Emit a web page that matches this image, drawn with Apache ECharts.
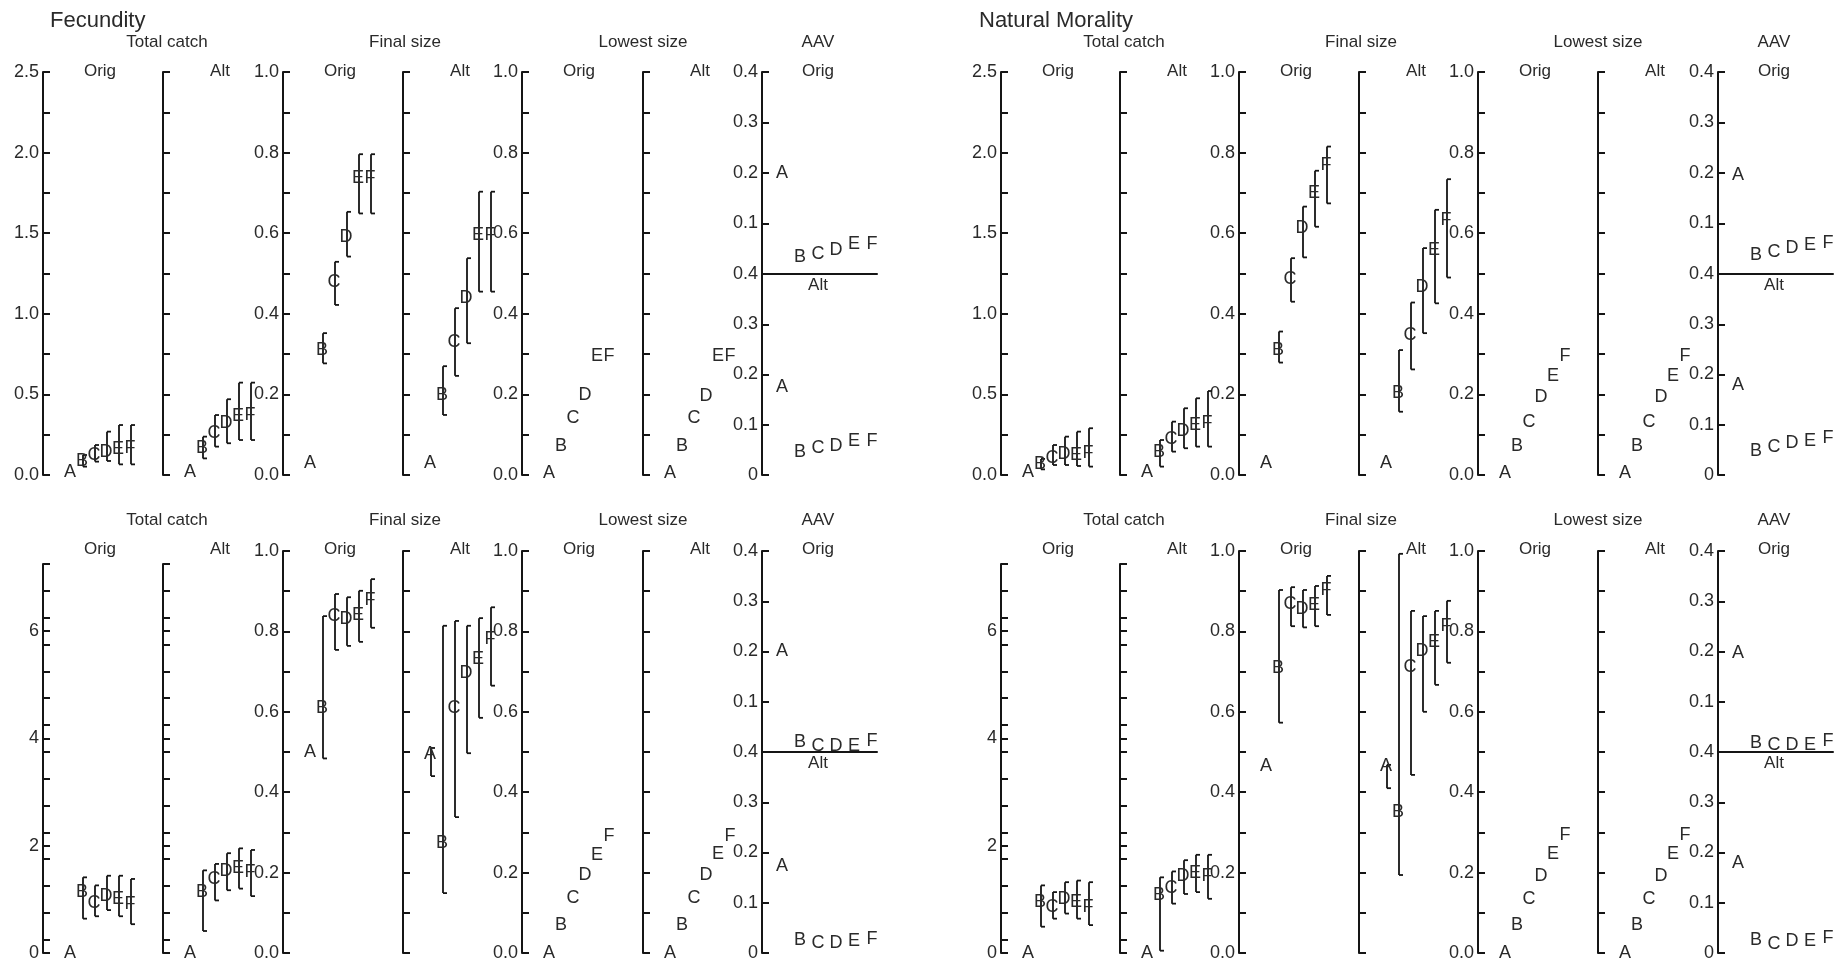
<!DOCTYPE html>
<html><head><meta charset="utf-8">
<script src="https://cdn.jsdelivr.net/npm/echarts@6/dist/echarts.min.js"></script>
<style>html,body{margin:0;padding:0;background:#fff}#c{width:1845px;height:968px}</style>
</head><body><div id="c"></div>
<script>
// ---------------- DATA ----------------
const letters = ['A', 'B', 'C', 'D', 'E', 'F'];

// Fecundity, upper row
const f1TcOrig = [0.02, 0.087, 0.124, 0.145, 0.159, 0.165];
const f1TcOrigLo = [null, 0.052, 0.083, 0.087, 0.066, 0.066];
const f1TcOrigHi = [null, 0.124, 0.186, 0.269, 0.31, 0.31];
const f1TcAlt = [0.02, 0.165, 0.259, 0.32, 0.366, 0.372];
const f1TcAltLo = [null, 0.103, 0.176, 0.197, 0.217, 0.217];
const f1TcAltHi = [null, 0.238, 0.372, 0.47, 0.573, 0.573];
const f1FsOrig = [0.029, 0.31, 0.48, 0.591, 0.736, 0.736];
const f1FsOrigLo = [null, 0.277, 0.422, 0.542, 0.649, 0.649];
const f1FsOrigHi = [null, 0.352, 0.529, 0.653, 0.796, 0.796];
const f1FsAlt = [0.029, 0.199, 0.331, 0.44, 0.596, 0.596];
const f1FsAltLo = [null, 0.149, 0.246, 0.327, 0.455, 0.455];
const f1FsAltHi = [null, 0.27, 0.414, 0.538, 0.703, 0.703];
const f1LsOrig = [0.004, 0.072, 0.141, 0.199, 0.294, 0.294];
const f1LsAlt = [0.004, 0.072, 0.141, 0.197, 0.294, 0.294];
const f1AavOrig = [0.2, 0.034, 0.04, 0.048, 0.059, 0.059];
const f1AavAlt = [0.176, 0.046, 0.053, 0.058, 0.068, 0.068];

// Fecundity, lower row
const f2TcOrig = [0, 1.135, 0.93, 1.055, 1.01, 0.907];
const f2TcOrigLo = [null, 0.64, 0.685, 0.80, 0.685, 0.537];
const f2TcOrigHi = [null, 1.41, 1.26, 1.44, 1.44, 1.38];
const f2TcAlt = [0, 1.135, 1.38, 1.52, 1.59, 1.51];
const f2TcAltLo = [null, 0.41, 0.98, 1.17, 1.20, 1.06];
const f2TcAltHi = [null, 1.54, 1.66, 1.86, 1.95, 1.92];
const f2FsOrig = [0.5, 0.61, 0.838, 0.83, 0.841, 0.878];
const f2FsOrigLo = [null, 0.484, 0.754, 0.764, 0.774, 0.809];
const f2FsOrigHi = [null, 0.838, 0.893, 0.885, 0.901, 0.93];
const f2FsAlt = [0.495, 0.274, 0.61, 0.696, 0.731, 0.78];
const f2FsAltLo = [0.44, 0.149, 0.338, 0.497, 0.585, 0.665];
const f2FsAltHi = [0.51, 0.814, 0.826, 0.814, 0.833, 0.86];
const f2LsOrig = [0, 0.07, 0.136, 0.194, 0.244, 0.291];
const f2LsAlt = [0, 0.07, 0.136, 0.194, 0.246, 0.291];
const f2AavOrig = [0.2, 0.019, 0.012, 0.012, 0.012, 0.021];
const f2AavAlt = [0.174, 0.026, 0.019, 0.02, 0.023, 0.027];

// Natural Morality, upper row
const m1TcOrig = [0.02, 0.066, 0.103, 0.128, 0.124, 0.135];
const m1TcOrigLo = [null, 0.035, 0.062, 0.062, 0.056, 0.052];
const m1TcOrigHi = [null, 0.1, 0.186, 0.238, 0.269, 0.29];
const m1TcAlt = [0.02, 0.145, 0.221, 0.275, 0.31, 0.324];
const m1TcAltLo = [null, 0.052, 0.145, 0.166, 0.176, 0.176];
const m1TcAltHi = [null, 0.217, 0.331, 0.414, 0.476, 0.521];
const m1FsOrig = [0.029, 0.31, 0.486, 0.612, 0.699, 0.768];
const m1FsOrigLo = [null, 0.279, 0.43, 0.54, 0.616, 0.674];
const m1FsOrigHi = [null, 0.356, 0.538, 0.666, 0.755, 0.815];
const m1FsAlt = [0.029, 0.203, 0.347, 0.467, 0.558, 0.633];
const m1FsAltLo = [null, 0.157, 0.262, 0.352, 0.426, 0.49];
const m1FsAltHi = [null, 0.31, 0.428, 0.563, 0.658, 0.734];
const m1LsOrig = [0.004, 0.072, 0.132, 0.194, 0.246, 0.294];
const m1LsAlt = [0.004, 0.072, 0.132, 0.194, 0.246, 0.294];
const m1AavOrig = [0.196, 0.038, 0.044, 0.051, 0.057, 0.062];
const m1AavAlt = [0.179, 0.048, 0.056, 0.063, 0.068, 0.073];

// Natural Morality, lower row
const m2TcOrig = [0, 0.95, 0.857, 1.01, 0.95, 0.857];
const m2TcOrigLo = [null, 0.49, 0.64, 0.735, 0.64, 0.52];
const m2TcOrigHi = [null, 1.26, 1.135, 1.32, 1.35, 1.32];
const m2TcAlt = [0, 1.074, 1.216, 1.44, 1.49, 1.44];
const m2TcAltLo = [null, 0.043, 0.92, 1.1, 1.135, 1.01];
const m2TcAltHi = [null, 1.41, 1.52, 1.73, 1.83, 1.83];
const m2FsOrig = [0.466, 0.708, 0.868, 0.855, 0.866, 0.903];
const m2FsOrigLo = [null, 0.573, 0.813, 0.81, 0.813, 0.841];
const m2FsOrigHi = [null, 0.903, 0.91, 0.903, 0.913, 0.938];
const m2FsAlt = [0.466, 0.351, 0.712, 0.75, 0.774, 0.813];
const m2FsAltLo = [0.41, 0.194, 0.443, 0.6, 0.667, 0.722];
const m2FsAltHi = [0.468, 0.993, 0.851, 0.838, 0.851, 0.876];
const m2LsOrig = [0, 0.07, 0.134, 0.192, 0.246, 0.294];
const m2LsAlt = [0, 0.07, 0.134, 0.192, 0.246, 0.294];
const m2AavOrig = [0.196, 0.018, 0.013, 0.013, 0.013, 0.022];
const m2AavAlt = [0.179, 0.026, 0.018, 0.023, 0.023, 0.029];

// tick / label values
const tcTicksUpper = [0, 0.25, 0.5, 0.75, 1, 1.25, 1.5, 1.75, 2, 2.25, 2.5];
const tcLabelsUpper = [0, 0.5, 1, 1.5, 2, 2.5];
const tcTicksLower = [0, 0.25, 0.75, 1.25, 1.75, 2, 2.25, 2.75, 3.25, 3.75, 4, 4.25, 4.75, 5.25, 5.75, 6, 6.25, 6.75, 7.25];
const tcLabelsLower = [0, 2, 4, 6];
const unitTicks = [0, 0.1, 0.2, 0.3, 0.4, 0.5, 0.6, 0.7, 0.8, 0.9, 1];
const unitLabels = [0, 0.2, 0.4, 0.6, 0.8, 1];
const aavTicks = [0, 0.1, 0.2, 0.3, 0.4];
const aavLabelsOrig = [0.1, 0.2, 0.3, 0.4];
const aavLabelsAlt = [0, 0.1, 0.2, 0.3, 0.4];

const panelTitles = ['Fecundity', 'Natural Morality'];
const columnTitles = ['Total catch', 'Final size', 'Lowest size', 'AAV'];

// ---------------- LAYOUT / STYLE ----------------
const LINE = '#151515';
const TEXT = '#2a2a2a';
const FONT = "'Liberation Sans', Arial, Helvetica, sans-serif";

const grids = [], xAxes = [], yAxes = [], series = [], graphics = [];

function addPanel(o) {
  const i = grids.length;
  grids.push({ left: o.left, top: o.top, width: o.width, height: o.height, containLabel: false });
  xAxes.push({
    gridIndex: i, type: 'value', min: o.xmin, max: o.xmax, show: !!o.xLine,
    axisLine: { show: !!o.xLine, onZero: false, lineStyle: { color: LINE, width: 2 } },
    axisTick: { show: false }, axisLabel: { show: false }, splitLine: { show: false }
  });
  yAxes.push({
    gridIndex: i, type: 'value', min: o.ymin, max: o.ymax, position: 'left',
    axisLine: { show: true, onZero: false, lineStyle: { color: LINE, width: 2 } },
    axisTick: { show: true, inside: true, length: 7, lineStyle: { color: LINE, width: 2 }, customValues: o.ticks },
    axisLabel: { show: !!o.labels, customValues: o.labels || [], formatter: o.fmt, color: TEXT, fontSize: 18, fontFamily: FONT, margin: 4 },
    splitLine: { show: false }
  });
  const vals = o.vals, lo = o.lo, hi = o.hi;
  series.push({
    type: 'custom', coordinateSystem: 'cartesian2d', xAxisIndex: i, yAxisIndex: i,
    silent: true, clip: false, animation: false,
    data: vals.map((v, k) => [k, v]),
    renderItem: function (params, api) {
      const k = params.dataIndex;
      const xv = api.value(0);
      const p = api.coord([xv, api.value(1)]);
      const children = [];
      if (lo && lo[k] != null) {
        const a = api.coord([xv, lo[k]]);
        const b = api.coord([xv, hi[k]]);
        const x = p[0] + 1;
        const st = { stroke: LINE, lineWidth: 1.8 };
        children.push({ type: 'line', shape: { x1: x, y1: a[1], x2: x, y2: b[1] }, style: st });
        children.push({ type: 'line', shape: { x1: x, y1: a[1], x2: x + 4, y2: a[1] }, style: st });
        children.push({ type: 'line', shape: { x1: x, y1: b[1], x2: x + 4, y2: b[1] }, style: st });
      }
      children.push({
        type: 'text', x: p[0], y: p[1],
        style: { text: letters[k], align: 'center', verticalAlign: 'middle', fontSize: 18, fontFamily: FONT, fill: TEXT }
      });
      return { type: 'group', children: children };
    }
  });
}

function txt(text, x, y, size, align) {
  graphics.push({ type: 'text', x: x, y: y, silent: true,
    style: { text: text, fontSize: size, fontFamily: FONT, fill: TEXT, align: align || 'center', verticalAlign: 'middle' } });
}

const fmtTcUpper = v => v.toFixed(1);
const fmtTcLower = v => String(Math.round(v));
const fmtUnit = v => v.toFixed(1);
const fmtAav = v => (Math.abs(v) < 1e-9 ? '0' : v.toFixed(1));

function quadrant(axX, rowTop, rowBottom, tcTop, tcMax, tcTicks, tcLabels, tcFmt, d) {
  const W = 120;
  const xr = { xmin: -2.25, xmax: -2.25 + W / 12 };
  const tcH = rowBottom - tcTop;
  const H = rowBottom - rowTop;
  const lower = rowBottom > 700;
  addPanel(Object.assign({ left: axX[0], top: tcTop, width: W, height: tcH, ymin: 0, ymax: tcMax, ticks: tcTicks, labels: tcLabels, fmt: tcFmt, vals: d.tcO, lo: d.tcOL, hi: d.tcOH }, xr));
  addPanel(Object.assign({ left: axX[1], top: tcTop, width: W, height: tcH, ymin: 0, ymax: tcMax, ticks: tcTicks, labels: null, fmt: tcFmt, vals: d.tcA, lo: d.tcAL, hi: d.tcAH }, xr));
  addPanel(Object.assign({ left: axX[2], top: rowTop, width: W, height: H, ymin: 0, ymax: 1, ticks: unitTicks, labels: unitLabels, fmt: fmtUnit, vals: d.fsO, lo: d.fsOL, hi: d.fsOH }, xr));
  addPanel(Object.assign({ left: axX[3], top: rowTop, width: W, height: H, ymin: 0, ymax: 1, ticks: unitTicks, labels: null, fmt: fmtUnit, vals: d.fsA, lo: d.fsAL, hi: d.fsAH }, xr));
  addPanel(Object.assign({ left: axX[4], top: rowTop, width: W, height: H, ymin: 0, ymax: 1, ticks: unitTicks, labels: unitLabels, fmt: fmtUnit, vals: d.lsO }, xr));
  addPanel(Object.assign({ left: axX[5], top: rowTop, width: W, height: H, ymin: 0, ymax: 1, ticks: unitTicks, labels: null, fmt: fmtUnit, vals: d.lsA }, xr));
  const mid = Math.round((rowTop + rowBottom) / 2);
  const aW = 115, ax = { xmin: -20 / 18, xmax: -20 / 18 + aW / 18 };
  addPanel(Object.assign({ left: axX[6], top: rowTop, width: aW, height: mid - rowTop, ymin: 0, ymax: 0.4, ticks: aavTicks, labels: aavLabelsOrig, fmt: fmtAav, vals: d.aO, xLine: true }, ax));
  addPanel(Object.assign({ left: axX[6], top: mid, width: aW, height: rowBottom - mid, ymin: 0, ymax: 0.4, ticks: aavTicks, labels: aavLabelsAlt, fmt: fmtAav, vals: d.aA }, ax));

  const cTitleY = lower ? 520 : 42;
  const subY = lower ? 549 : 71;
  txt(columnTitles[0], axX[1] + 4, cTitleY, 17);
  txt(columnTitles[1], axX[3] + 2, cTitleY, 17);
  txt(columnTitles[2], axX[5], cTitleY, 17);
  txt(columnTitles[3], axX[6] + 56, cTitleY, 17);
  for (let j = 0; j < 6; j++) txt(j % 2 === 0 ? 'Orig' : 'Alt', axX[j] + 57, subY, 17);
  txt('Orig', axX[6] + 56, subY, 17);
  txt('Alt', axX[6] + 56, mid + 11, 17);
}

const leftX = [43, 163, 283, 403, 522, 643, 762];
const rightX = [1001, 1120, 1239, 1359, 1478, 1598, 1718];

quadrant(leftX, 72, 475, 72, 2.5, tcTicksUpper, tcLabelsUpper, fmtTcUpper, {
  tcO: f1TcOrig, tcOL: f1TcOrigLo, tcOH: f1TcOrigHi, tcA: f1TcAlt, tcAL: f1TcAltLo, tcAH: f1TcAltHi,
  fsO: f1FsOrig, fsOL: f1FsOrigLo, fsOH: f1FsOrigHi, fsA: f1FsAlt, fsAL: f1FsAltLo, fsAH: f1FsAltHi,
  lsO: f1LsOrig, lsA: f1LsAlt, aO: f1AavOrig, aA: f1AavAlt });
quadrant(leftX, 551, 953, 564, 7.25, tcTicksLower, tcLabelsLower, fmtTcLower, {
  tcO: f2TcOrig, tcOL: f2TcOrigLo, tcOH: f2TcOrigHi, tcA: f2TcAlt, tcAL: f2TcAltLo, tcAH: f2TcAltHi,
  fsO: f2FsOrig, fsOL: f2FsOrigLo, fsOH: f2FsOrigHi, fsA: f2FsAlt, fsAL: f2FsAltLo, fsAH: f2FsAltHi,
  lsO: f2LsOrig, lsA: f2LsAlt, aO: f2AavOrig, aA: f2AavAlt });
quadrant(rightX, 72, 475, 72, 2.5, tcTicksUpper, tcLabelsUpper, fmtTcUpper, {
  tcO: m1TcOrig, tcOL: m1TcOrigLo, tcOH: m1TcOrigHi, tcA: m1TcAlt, tcAL: m1TcAltLo, tcAH: m1TcAltHi,
  fsO: m1FsOrig, fsOL: m1FsOrigLo, fsOH: m1FsOrigHi, fsA: m1FsAlt, fsAL: m1FsAltLo, fsAH: m1FsAltHi,
  lsO: m1LsOrig, lsA: m1LsAlt, aO: m1AavOrig, aA: m1AavAlt });
quadrant(rightX, 551, 953, 564, 7.25, tcTicksLower, tcLabelsLower, fmtTcLower, {
  tcO: m2TcOrig, tcOL: m2TcOrigLo, tcOH: m2TcOrigHi, tcA: m2TcAlt, tcAL: m2TcAltLo, tcAH: m2TcAltHi,
  fsO: m2FsOrig, fsOL: m2FsOrigLo, fsOH: m2FsOrigHi, fsA: m2FsAlt, fsAL: m2FsAltLo, fsAH: m2FsAltHi,
  lsO: m2LsOrig, lsA: m2LsAlt, aO: m2AavOrig, aA: m2AavAlt });

txt(panelTitles[0], 50, 21, 22, 'left');
txt(panelTitles[1], 979, 21, 22, 'left');

const chart = echarts.init(document.getElementById('c'), null, { renderer: 'canvas' });
chart.setOption({
  backgroundColor: '#ffffff',
  animation: false,
  grid: grids, xAxis: xAxes, yAxis: yAxes, series: series,
  graphic: graphics
});
</script>
</body></html>
